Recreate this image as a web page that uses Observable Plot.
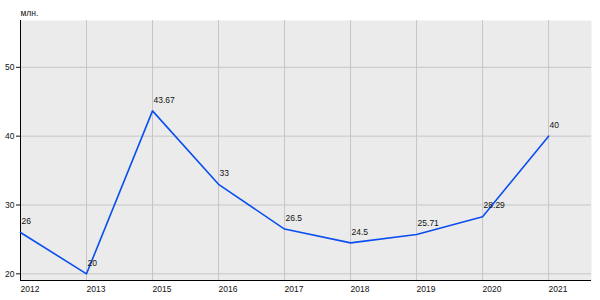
<!DOCTYPE html>
<html>
<head>
<meta charset="utf-8">
<script src="https://cdn.jsdelivr.net/npm/d3@7"></script>
<script src="https://cdn.jsdelivr.net/npm/@observablehq/plot@0.6"></script>
<style>
  html, body { margin: 0; padding: 0; background: #fff; }
</style>
</head>
<body>
<div id="chart"></div>
<script>
const years = ["2012", "2013", "2015", "2016", "2017", "2018", "2019", "2020", "2021"];
const values = [26, 20, 43.67, 33, 26.5, 24.5, 25.71, 28.29, 40];
const labels = ["26", "20", "43.67", "33", "26.5", "24.5", "25.71", "28.29", "40"];
const yTicks = [20, 30, 40, 50];
const unitLabel = "млн.";

const data = years.map((y, i) => ({i, year: y, value: values[i], label: labels[i]}));
const idx = years.map((_, i) => i);

const chart = Plot.plot({
  width: 600,
  height: 300,
  marginLeft: 20,
  marginRight: 9,
  marginTop: 20,
  marginBottom: 20,
  style: {fontFamily: "'Liberation Sans', Arial, sans-serif", fontSize: "8.5px", color: "#111", background: "transparent"},
  x: {type: "linear", domain: [0, 8.65]},
  y: {domain: [19.03, 56.8]},
  marks: [
    Plot.frame({fill: "#ebebeb", stroke: null}),
    Plot.gridX({ticks: idx, stroke: "#c6c6c6", strokeOpacity: 1}),
    Plot.gridY({ticks: yTicks, stroke: "#c6c6c6", strokeOpacity: 1}),
    Plot.ruleX([0], {stroke: "#000"}),
    Plot.ruleY([19.03], {stroke: "#000"}),
    Plot.axisY({ticks: yTicks, tickSize: 4, tickPadding: 2, label: null, fill: "#111"}),
    Plot.axisX({ticks: idx, tickSize: 0, tickPadding: 5, textAnchor: "start", tickFormat: (d) => years[d], label: null, fill: "#111"}),
    Plot.line(data, {x: "i", y: "value", stroke: "#0a4ef0", strokeWidth: 1.6}),
    Plot.text(data, {x: "i", y: "value", text: "label", textAnchor: "start", dx: 1, dy: -11, fill: "#111"}),
    Plot.text([unitLabel], {frameAnchor: "top-left", text: (d) => d, textAnchor: "start", lineAnchor: "middle", dx: 0, dy: -7, fill: "#111"})
  ]
});
document.getElementById("chart").append(chart);
</script>
</body>
</html>
